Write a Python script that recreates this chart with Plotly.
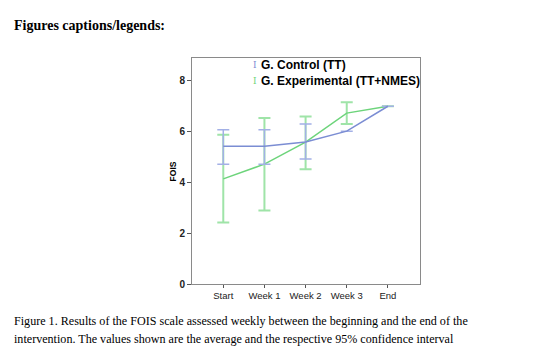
import plotly.graph_objects as go

categories = ["Start", "Week 1", "Week 2", "Week 3", "End"]

control_mean = [5.42, 5.42, 5.59, 6.02, 7.0]
control_low = [4.72, 4.72, 4.92, 6.02, 7.0]
control_high = [6.07, 6.07, 6.30, 6.02, 7.0]

exper_mean = [4.14, 4.72, 5.59, 6.73, 7.0]
exper_low = [2.42, 2.89, 4.52, 6.30, 7.0]
exper_high = [5.88, 6.54, 6.60, 7.16, 7.0]

y_ticks = [0, 2, 4, 6, 8]

title_text = "Figures captions/legends:"
caption_lines = [
    "Figure 1. Results of the FOIS scale assessed weekly between the beginning and the end of the",
    "intervention. The values shown are the average and the respective 95% confidence interval",
]
legend_names = ["G. Control (TT)", "G. Experimental (TT+NMES)"]

blue_line = "#7b8dd3"
blue_err = "#a3b0e6"
green_line = "#6dd47b"
green_err = "#9fe4a8"


def err(mean, low, high):
    return ([h - m for m, h in zip(mean, high)], [m - l for m, l in zip(mean, low)])


fig = go.Figure()

ep, em = err(exper_mean, exper_low, exper_high)
fig.add_trace(go.Scatter(
    x=categories, y=exper_mean, mode="lines", name=legend_names[1],
    line=dict(color=green_line, width=1.5),
    error_y=dict(type="data", array=ep, arrayminus=em, symmetric=False,
                 color=green_err, thickness=2, width=6),
    showlegend=False,
))

cp, cm = err(control_mean, control_low, control_high)
fig.add_trace(go.Scatter(
    x=categories, y=control_mean, mode="lines", name=legend_names[0],
    line=dict(color=blue_line, width=1.5),
    error_y=dict(type="data", array=cp, arrayminus=cm, symmetric=False,
                 color=blue_err, thickness=1.5, width=6),
    showlegend=False,
))

OFF = 8  # page body margin
W, H = 545, 360
# plot area in page pixels
P_LEFT, P_RIGHT, P_TOP, P_BOTTOM = 192, 420.5, 58.3, 284
L = P_LEFT - OFF
T = P_TOP - OFF
R = W - (P_RIGHT - OFF)
B = H - (P_BOTTOM - OFF)
pw = P_RIGHT - P_LEFT
ph = P_BOTTOM - P_TOP


def px(xp):
    return (xp - P_LEFT) / pw


def py(yp):
    return (P_BOTTOM - yp) / ph


annotations = []
annotations.append(dict(
    text="<b>" + title_text + "</b>", xref="paper", yref="paper",
    x=px(12), y=py(26), xanchor="left", yanchor="middle", showarrow=False,
    font=dict(family="Liberation Serif", size=14, color="#000000"),
))
for i, line in enumerate(caption_lines):
    annotations.append(dict(
        text=line, xref="paper", yref="paper",
        x=px(11.5), y=py(320.5 + 18.3 * i), xanchor="left", yanchor="middle",
        showarrow=False,
        font=dict(family="Liberation Serif", size=12.1, color="#000000"),
    ))

for i, (name, col) in enumerate(zip(legend_names, [blue_line, green_line])):
    yy = 65 + 16.7 * i
    annotations.append(dict(
        text="I", xref="paper", yref="paper", x=px(255.5), y=py(yy),
        xanchor="center", yanchor="middle", showarrow=False,
        font=dict(family="DejaVu Serif", size=9, color=col),
    ))
    annotations.append(dict(
        text="<b>" + name + "</b>", xref="paper", yref="paper", x=px(259.5), y=py(yy),
        xanchor="left", yanchor="middle", showarrow=False,
        font=dict(family="Liberation Sans", size=12, color="#000000"),
    ))

annotations.append(dict(
    text="<b>FOIS</b>", xref="paper", yref="paper", x=px(173), y=py(171.5),
    xanchor="center", yanchor="middle", textangle=-90, showarrow=False,
    font=dict(family="Liberation Sans", size=8.5, color="#000000"),
))

fig.update_layout(
    width=W, height=H,
    margin=dict(l=L, r=R, t=T, b=B),
    paper_bgcolor="white", plot_bgcolor="white",
    annotations=annotations,
    xaxis=dict(
        type="category", range=[-0.76, 4.78],
        showline=True, mirror=True, linecolor="#8a8a8a", linewidth=1,
        showgrid=False, zeroline=False,
        ticks="outside", ticklen=3, tickcolor="#555555",
        tickfont=dict(family="Liberation Sans", size=9.5, color="#222222"),
    ),
    yaxis=dict(
        range=[0, 8.9], tickvals=y_ticks,
        showline=True, mirror=True, linecolor="#8a8a8a", linewidth=1,
        showgrid=False, zeroline=False,
        ticks="outside", ticklen=4, tickcolor="#555555",
        tickfont=dict(family="Liberation Sans", size=10, color="#222222", weight="bold"),
    ),
)

fig.write_html("out.html")
